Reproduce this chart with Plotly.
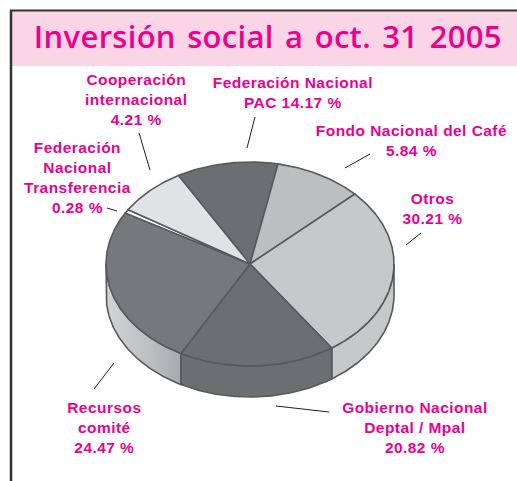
import math
import plotly.graph_objects as go

# Category names and the percentages printed beside them
categories = ["Federación Nacional<br>PAC 14.17 %", "Fondo Nacional del Café<br>5.84 %", "Otros<br>30.21 %",
              "Gobierno Nacional<br>Deptal / Mpal<br>20.82 %", "Recursos<br>comité<br>24.47 %",
              "Federación<br>Nacional<br>Transferencia<br>0.28 %", "Cooperación<br>internacional<br>4.21 %"]
# Slice shares as drawn in the picture (%); the artwork is not proportional to its printed figures
drawn_share = [11.39, 9.86, 27.42, 17.58, 25.36, 0.61, 7.78]
top_colors = ["#6d6e71", "#bcbec0", "#c7c8ca", "#6d6e71", "#77787b", "#ffffff", "#e1e2e4"]
label_x = [293, 411, 432, 415, 104, 77, 136]
label_y = [92.5, 140, 208, 427.5, 427.5, 177, 99]
leaders = [((255, 117), (247, 148)), ((370, 154), (345, 168)), ((421, 233), (406, 245)),
           ((329, 412), (276, 406)), ((94, 389), (114, 363)), ((107, 208), (117, 211)), ((139, 133), (150, 170))]

TITLE = "Inversión social a oct. 31 2005"
PINK = "#ec008c"
EDGE = "#58595b"
CX, CY, RX, RY, DEPTH = 250, 264, 144, 102, 31
START = 330.2

def pt(a, dz=0):
    r = math.radians(a)
    return CX + RX * math.sin(r), CY - RY * math.cos(r) + dz

def arc(a, b, dz=0):
    n = max(2, int(abs(b - a) * 2))
    return [pt(a + (b - a) * i / n, dz) for i in range(n + 1)]

fig = go.Figure()
def poly(points, color, **kw):
    fig.add_trace(go.Scatter(x=[p[0] for p in points], y=[p[1] for p in points], mode="lines", fill="toself",
                             line=dict(color=EDGE, width=1.6), hoverinfo="skip", showlegend=False,
                             **({"fillcolor": color} if color else {}), **kw))

# slice limits
limits = []
a = START
for s in drawn_share:
    b = a + s * 3.6
    limits.append((a, b))
    a = b

# visible rim
for (a, b), col in zip(limits, top_colors):
    # bring each slice into the same turn as the visible front half (90..270 degrees)
    shift = 360 if b > 360 and a >= 360 else 0
    lo, hi = a - shift, b - shift
    if hi <= 90 or lo >= 270:
        continue
    lo, hi = max(lo, 90), min(hi, 270)
    pts = arc(lo, hi) + arc(hi, lo, DEPTH)
    pts.append(pts[0])
    if col == "#77787b":  # the left part of the rim has a soft highlight
        poly(pts, None, fillgradient=dict(type="horizontal",
             colorscale=[[0, "#d2d3d5"], [0.6, "#bcbec0"], [1, "#a7a9ac"]]))
    else:
        poly(pts, col)

# top face
for (a, b), col in zip(limits, top_colors):
    pts = [(CX, CY)] + arc(a, b) + [(CX, CY)]
    poly(pts, col)

shapes = [
    dict(type="rect", x0=12, x1=517, y0=11, y1=66, fillcolor="#f9d5e5", line_width=0, layer="below"),
    dict(type="line", x0=11, x1=11, y0=10, y1=481, line=dict(color="#333333", width=2.5)),
    dict(type="line", x0=10, x1=517, y0=10.5, y1=10.5, line=dict(color="#333333", width=2)),
]
for (p, q) in leaders:
    shapes.append(dict(type="line", x0=p[0], y0=p[1], x1=q[0], y1=q[1], line=dict(color="#231f20", width=1)))

annotations = [dict(x=268, y=36, text=TITLE, showarrow=False, xanchor="center", yanchor="middle",
                    font=dict(family="Open Sans", size=31, color=PINK, weight=600))]
for t, x, y in zip(categories, label_x, label_y):
    annotations.append(dict(x=x, y=y, text=f"<b>{t}</b>", showarrow=False, xanchor="center", yanchor="middle",
                            align="center", font=dict(family="Liberation Sans", size=15.5, color=PINK)))

fig.update_layout(width=517, height=481, margin=dict(l=0, r=0, t=0, b=0), paper_bgcolor="white", plot_bgcolor="white",
                  xaxis=dict(range=[0, 517], visible=False, fixedrange=True),
                  yaxis=dict(range=[481, 0], visible=False, fixedrange=True),
                  shapes=shapes, annotations=annotations)

post = """
document.body.style.margin='0';document.documentElement.style.overflow='hidden';
document.querySelectorAll('.annotation-text').forEach(function(e,i){
  if(i===0){e.style.letterSpacing='0.3px';e.style.wordSpacing='3px';}
  else{e.style.letterSpacing='0.45px';}
});
"""
fig.write_html("out.html", config={"displayModeBar": False}, post_script=post)
